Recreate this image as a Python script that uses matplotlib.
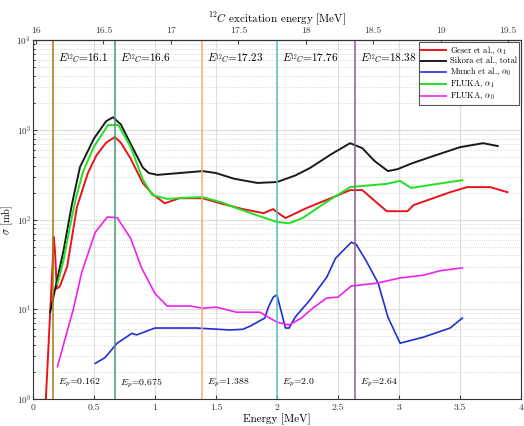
import numpy as np
import matplotlib
matplotlib.use('Agg')
import matplotlib.pyplot as plt
from matplotlib.ticker import LogLocator, MultipleLocator, FixedLocator

plt.rcParams['font.family'] = 'serif'
plt.rcParams['font.serif'] = ['cmr10', 'DejaVu Serif']
plt.rcParams['mathtext.fontset'] = 'cm'
plt.rcParams['axes.unicode_minus'] = False
plt.rcParams['axes.formatter.use_mathtext'] = True

# Geser et al., alpha1
geser_x = [0.105, 0.12, 0.14, 0.16, 0.17, 0.18, 0.195, 0.22, 0.28, 0.36, 0.45, 0.52, 0.6, 0.67, 0.72, 0.8,
           0.9, 0.98, 1.08, 1.2, 1.39, 1.55, 1.72, 1.89, 1.97, 2.0, 2.07, 2.24, 2.45, 2.6, 2.7, 2.9,
           3.07, 3.12, 3.42, 3.56, 3.75, 3.89]
geser_y = [1.0, 2.5, 9, 30, 64, 45, 17, 18, 30, 138, 330, 520, 720, 830, 720, 480,
           255, 192, 152, 173, 173, 150, 131, 118, 131, 121, 104, 134, 175, 213, 213, 124,
           124, 145, 202, 230, 230, 202]

# Sikora et al., total
sikora_x = [0.14, 0.2, 0.25, 0.32, 0.385, 0.5, 0.6, 0.656, 0.72, 0.8, 0.9, 0.95, 1.02, 1.2, 1.39, 1.5,
            1.65, 1.84, 2.0, 2.15, 2.27, 2.45, 2.6, 2.7, 2.8, 2.91, 2.99, 3.11, 3.3, 3.5, 3.69, 3.81]
sikora_y = [9.3, 22, 45, 150, 385, 800, 1250, 1380, 1150, 700, 380, 330, 315, 330, 347, 330,
            285, 256, 262, 310, 375, 540, 710, 625, 450, 347, 365, 425, 520, 640, 710, 660]

# Munch et al., alpha0
munch_x = [0.51, 0.59, 0.69, 0.81, 0.85, 1.0, 1.34, 1.61, 1.72, 1.78, 1.9, 1.93, 1.97, 2.0, 2.07, 2.1,
           2.15, 2.27, 2.41, 2.48, 2.61, 2.65, 2.73, 2.83, 2.91, 3.01, 3.2, 3.42, 3.52]
munch_y = [2.5, 2.9, 4.2, 5.4, 5.2, 6.2, 6.2, 5.9, 6.0, 6.5, 8.0, 10.6, 13.7, 14.5, 6.2, 6.2,
           8.2, 12.7, 23, 37, 56, 53, 35, 19.6, 8.2, 4.2, 4.9, 6.2, 8.0]

# FLUKA alpha1
fa1_x = [0.2, 0.25, 0.3, 0.35, 0.41, 0.5, 0.615, 0.7, 0.8, 0.9, 0.98, 1.1, 1.25, 1.39, 1.55, 1.67,
         1.85, 2.0, 2.1, 2.21, 2.4, 2.6, 2.75, 2.9, 3.01, 3.1, 3.3, 3.52]
fa1_y = [19, 35, 80, 170, 340, 650, 1130, 1130, 650, 280, 187, 170, 175, 178, 155, 134,
         110, 94, 91, 104, 155, 230, 240, 250, 270, 225, 248, 275]

# FLUKA alpha0
fa0_x = [0.2, 0.33, 0.4, 0.51, 0.61, 0.69, 0.8, 0.89, 1.0, 1.1, 1.29, 1.39, 1.5, 1.67, 1.86, 2.0,
         2.1, 2.2, 2.3, 2.41, 2.5, 2.61, 2.82, 3.01, 3.2, 3.34, 3.52]
fa0_y = [2.3, 10, 26, 72, 107, 105, 62, 29, 15, 10.9, 10.9, 10.3, 10.6, 9.3, 9.3, 7.2,
         6.7, 8.0, 10.5, 13.4, 13.7, 18.2, 19.6, 22.4, 24, 27, 29]

# resonance markers
ep_lines = [0.162, 0.675, 1.388, 2.0, 2.64]
ec_labels = ['16.1', '16.6', '17.23', '17.76', '18.38']
ep_labels = ['0.162', '0.675', '1.388', '2.0', '2.64']
line_colors = ['#a8780c', '#4a9a72', '#f2aa7c', '#52c2c2', '#8c5a9c']
top_ticks = [16, 16.5, 17, 17.5, 18, 18.5, 19, 19.5]

fig = plt.figure(figsize=(5.24, 4.26), dpi=100)
ax = fig.add_axes([0.063, 0.063, 0.931, 0.843])

ax.plot(geser_x, geser_y, color='#e8141c', lw=1.4, label=r'Geser et al., $\alpha_1$')
ax.plot(sikora_x, sikora_y, color='#1a1a1a', lw=1.4, label='Sikora et al., total')
ax.plot(munch_x, munch_y, color='#2030d0', lw=1.2, label=r'Munch et al., $\alpha_0$')
ax.plot(fa1_x, fa1_y, color='#22e022', lw=1.4, label=r'FLUKA, $\alpha_1$')
ax.plot(fa0_x, fa0_y, color='#ee22ee', lw=1.2, label=r'FLUKA, $\alpha_0$')

for ep, ec, epl, c in zip(ep_lines, ec_labels, ep_labels, line_colors):
    ax.axvline(ep, color=c, lw=1.1)
    ax.text(ep + 0.04, 6300, r'$E_{^{12}C}$=' + ec, fontsize=8, va='center')
    ax.text(ep + 0.04, 1.5, r'$E_p$=' + epl, fontsize=7, va='center')

ax.set_yscale('log')
ax.set_xlim(0, 4)
ax.set_ylim(1, 1e4)
ax.xaxis.set_major_locator(MultipleLocator(0.5))
ax.xaxis.set_major_formatter(plt.FuncFormatter(lambda v, p: f'{v:g}'))
ax.yaxis.set_major_locator(LogLocator(base=10))
ax.yaxis.set_minor_locator(LogLocator(base=10, subs=np.arange(2, 10)))
ax.grid(True, which='major', color='#dddddd', lw=0.8)
ax.grid(True, which='minor', axis='y', color='#cccccc', lw=0.6, ls=':')
ax.tick_params(direction='in', labelsize=7, length=3, colors='#444444', labelcolor='#333333')
ax.tick_params(axis='y', labelsize=6.5, pad=1.5)
ax.tick_params(which='minor', direction='in', length=1.5)
ax.set_xlabel('Energy [MeV]', fontsize=8, labelpad=1)
ax.set_ylabel(r'$\sigma$ [mb]', fontsize=7.5)
ax.yaxis.set_label_coords(-0.037, 0.5)

top = ax.secondary_xaxis('top', functions=(lambda e: 15.978 + 0.904 * e,
                                           lambda x: (x - 15.978) / 0.904))
top.xaxis.set_major_locator(FixedLocator(top_ticks))
top.xaxis.set_major_formatter(plt.FuncFormatter(lambda v, p: f'{v:g}'))
top.tick_params(direction='in', labelsize=7, length=3, colors='#444444', labelcolor='#333333')
top.set_xlabel(r'$^{12}C$ excitation energy [MeV]', fontsize=8, labelpad=3)

leg = ax.legend(loc='upper right', fontsize=6, handlelength=3, borderpad=0.3,
                labelspacing=0.05, handletextpad=0.4, fancybox=False,
                edgecolor='#555555', framealpha=1, borderaxespad=0.2)
leg.get_frame().set_linewidth(0.8)

for s in ax.spines.values():
    s.set_color('#333333')

fig.savefig('out.png', dpi=100)
